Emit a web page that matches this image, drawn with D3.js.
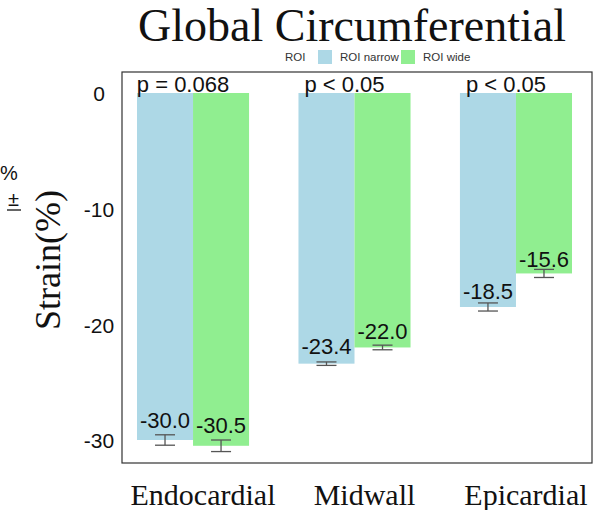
<!DOCTYPE html>
<html><head><meta charset="utf-8">
<script src="https://cdn.jsdelivr.net/npm/d3@7"></script>
<style>body{margin:0;background:#fff}svg{display:block}</style>
</head><body>
<script>
const categories = ["Endocardial", "Midwall", "Epicardial"];
const seriesNames = ["ROI narrow", "ROI wide"];
const narrowValues = [-30.0, -23.4, -18.5];
const wideValues = [-30.5, -22.0, -15.6];
const narrowErr = [0.45, 0.15, 0.35];
const wideErr = [0.5, 0.2, 0.35];
const pLabels = ["p = 0.068", "p < 0.05", "p < 0.05"];
const yTicks = [0, -10, -20, -30];
const colors = ["#ADD8E6", "#90EE90"];

const W = 601, H = 510;
const svg = d3.select("body").append("svg").attr("width", W).attr("height", H);
const sans = "Liberation Sans, Arial, sans-serif";
const serif = "Liberation Serif, Times New Roman, serif";

const y = d3.scaleLinear().domain([0, -30]).range([93, 440]);
const x0 = d3.scaleBand().domain(categories).range([137, 572]).paddingInner(0.306).paddingOuter(0);
const x1 = d3.scaleBand().domain(seriesNames).range([0, x0.bandwidth()]);

const data = [];
categories.forEach((c, i) => {
  data.push({cat: c, s: seriesNames[0], v: narrowValues[i], e: narrowErr[i], col: colors[0]});
  data.push({cat: c, s: seriesNames[1], v: wideValues[i], e: wideErr[i], col: colors[1]});
});

// frame
svg.append("rect").attr("x", 122).attr("y", 72).attr("width", 470).attr("height", 391)
  .attr("fill", "none").attr("stroke", "#333").attr("stroke-width", 1.2);

// bars
svg.selectAll("rect.bar").data(data).join("rect").attr("class", "bar")
  .attr("x", d => x0(d.cat) + x1(d.s)).attr("width", x1.bandwidth())
  .attr("y", y(0)).attr("height", d => y(d.v) - y(0)).attr("fill", d => d.col);

// error bars
const eb = svg.selectAll("g.eb").data(data).join("g").attr("class", "eb")
  .attr("stroke", "#555").attr("stroke-width", 1.3);
eb.each(function(d) {
  const g = d3.select(this);
  const cx = x0(d.cat) + x1(d.s) + x1.bandwidth() / 2;
  const hw = 10;
  g.append("line").attr("x1", cx).attr("x2", cx).attr("y1", y(d.v + d.e)).attr("y2", y(d.v - d.e));
  g.append("line").attr("x1", cx - hw).attr("x2", cx + hw).attr("y1", y(d.v + d.e)).attr("y2", y(d.v + d.e));
  g.append("line").attr("x1", cx - hw).attr("x2", cx + hw).attr("y1", y(d.v - d.e)).attr("y2", y(d.v - d.e));
});

// value labels
svg.selectAll("text.val").data(data).join("text").attr("class", "val")
  .attr("x", d => x0(d.cat) + x1(d.s) + x1.bandwidth() / 2)
  .attr("y", d => y(d.v * 0.965))
  .attr("text-anchor", "middle").attr("font-family", sans).attr("font-size", 22).attr("fill", "#111")
  .text(d => d.v.toFixed(1));

// p labels
svg.selectAll("text.p").data(categories).join("text").attr("class", "p")
  .attr("x", d => x0(d) + x0.bandwidth() / 2 - 10).attr("y", y(0) - 1)
  .attr("text-anchor", "middle").attr("font-family", sans).attr("font-size", 22).attr("fill", "#111")
  .text((d, i) => pLabels[i]);

// y tick labels
svg.selectAll("text.yt").data(yTicks).join("text").attr("class", "yt")
  .attr("x", 99).attr("y", d => y(d)).attr("dy", "0.4em")
  .attr("text-anchor", "middle").attr("font-family", sans).attr("font-size", 21).attr("fill", "#111")
  .text(d => d3.format("d")(d).replace("−", "-"));

// x labels
svg.selectAll("text.xl").data(categories).join("text").attr("class", "xl")
  .attr("x", d => x0(d) + x0.bandwidth() / 2 + 10).attr("y", 505)
  .attr("text-anchor", "middle").attr("font-family", serif).attr("font-size", 30).attr("fill", "#111")
  .text(d => d);

// y title
svg.append("text").attr("transform", "translate(60,260) rotate(-90)")
  .attr("text-anchor", "middle").attr("font-family", serif).attr("font-size", 36).attr("fill", "#111")
  .text("Strain(%)");

// title
svg.append("text").attr("x", 352).attr("y", 41).attr("text-anchor", "middle")
  .attr("font-family", serif).attr("font-size", 46).attr("fill", "#111").text("Global Circumferential");

// legend
const lg = svg.append("g").attr("font-family", sans).attr("font-size", 11.5).attr("fill", "#333");
lg.append("text").attr("x", 285).attr("y", 61).text("ROI");
const items = [{n: seriesNames[0], c: colors[0], x: 318}, {n: seriesNames[1], c: colors[1], x: 401}];
items.forEach(it => {
  lg.append("rect").attr("x", it.x).attr("y", 50).attr("width", 14).attr("height", 14).attr("fill", it.c);
  lg.append("text").attr("x", it.x + 22).attr("y", 61).text(it.n);
});

// stray text at left edge (as in reference)
svg.append("text").attr("x", 0).attr("y", 180).attr("font-family", sans).attr("font-size", 20).attr("fill", "#111").text("%");
svg.append("text").attr("x", 8).attr("y", 206).attr("font-family", sans).attr("font-size", 20).attr("fill", "#111").text("±");
svg.append("line").attr("x1", 7).attr("x2", 21).attr("y1", 210).attr("y2", 210).attr("stroke", "#111").attr("stroke-width", 1.3);
</script>
</body></html>
